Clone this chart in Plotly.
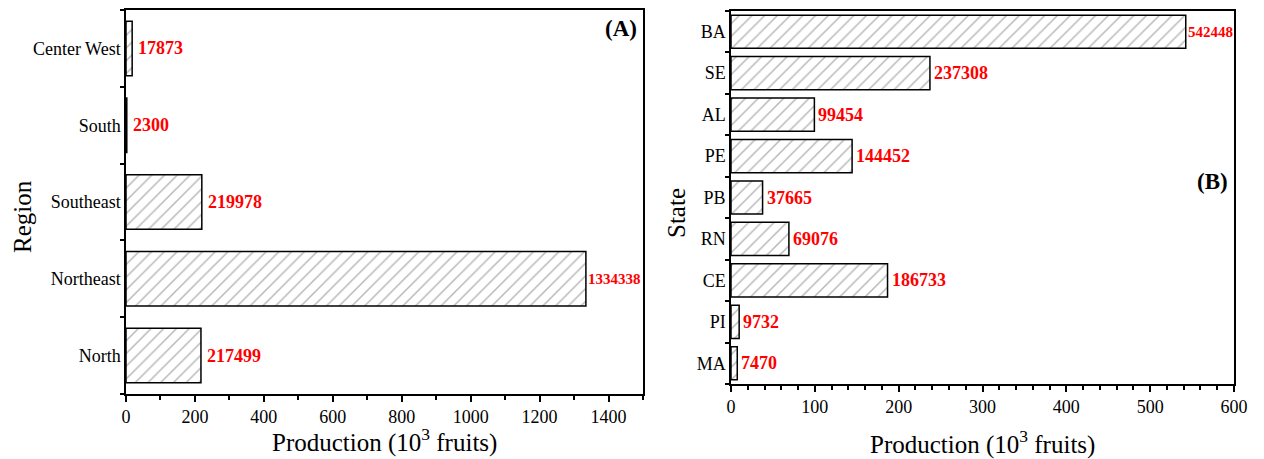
import plotly.graph_objects as go

# ---------------- data ----------------
regions = ["North", "Northeast", "Southeast", "South", "Center West"]
region_values = [217499, 1334338, 219978, 2300, 17873]

states = ["MA", "PI", "CE", "RN", "PB", "PE", "AL", "SE", "BA"]
state_values = [7470, 9732, 186733, 69076, 37665, 144452, 99454, 237308, 542448]

x_ticks_a = [0, 200, 400, 600, 800, 1000, 1200, 1400]
x_ticks_b = [0, 100, 200, 300, 400, 500, 600]

x_title = "Production (10<sup>3</sup> fruits)"
y_title_a = "Region"
y_title_b = "State"

W, H = 1264, 459
SERIF = "Liberation Serif, Times New Roman, serif"

def px_x(p):
    return p / W

def px_y(p):
    return 1 - p / H

fig = go.Figure()

pattern = dict(shape="/", fgcolor="#6e6e6e", bgcolor="white", size=9, solidity=0.16)

fig.add_trace(go.Bar(
    y=regions, x=[v / 1000 for v in region_values], orientation="h",
    width=0.71,
    marker=dict(color="white", line=dict(color="black", width=1.5), pattern=pattern),
    xaxis="x", yaxis="y", showlegend=False, hoverinfo="skip"))

fig.add_trace(go.Bar(
    y=states, x=[v / 1000 for v in state_values], orientation="h",
    width=0.8,
    marker=dict(color="white", line=dict(color="black", width=1.5), pattern=pattern),
    xaxis="x2", yaxis="y2", showlegend=False, hoverinfo="skip"))

annotations = []
for cat, v in zip(regions, region_values):
    big = v > 1000000
    annotations.append(dict(
        x=v / 1000, y=cat, xref="x", yref="y", text=str(v), showarrow=False,
        xanchor="left", yanchor="middle", xshift=0 if big else 4,
        font=dict(family=SERIF, size=15 if big else 18, color="#ff0000", weight="bold")))
for cat, v in zip(states, state_values):
    big = v > 500000
    annotations.append(dict(
        x=v / 1000, y=cat, xref="x2", yref="y2", text=str(v), showarrow=False,
        xanchor="left", yanchor="middle", xshift=0 if big else 2,
        font=dict(family=SERIF, size=15 if big else 18, color="#ff0000", weight="bold")))

annotations.append(dict(x=px_x(639), y=px_y(29), xref="paper", yref="paper", text="<b>(A)</b>",
                        showarrow=False, xanchor="right", yanchor="middle",
                        font=dict(family=SERIF, size=23, color="black")))
annotations.append(dict(x=px_x(1230), y=px_y(181), xref="paper", yref="paper", text="<b>(B)</b>",
                        showarrow=False, xanchor="right", yanchor="middle",
                        font=dict(family=SERIF, size=23, color="black")))

titlefont = dict(family=SERIF, size=25, color="black")
# axis titles
annotations.append(dict(x=px_x(384), y=px_y(440), xref="paper", yref="paper", text=x_title,
                        showarrow=False, xanchor="center", yanchor="middle", font=titlefont))
annotations.append(dict(x=px_x(982), y=px_y(442), xref="paper", yref="paper", text=x_title,
                        showarrow=False, xanchor="center", yanchor="middle", font=titlefont))
annotations.append(dict(x=px_x(22), y=px_y(217), xref="paper", yref="paper", text=y_title_a,
                        showarrow=False, xanchor="center", yanchor="middle", textangle=-90,
                        font=titlefont))
annotations.append(dict(x=px_x(676), y=px_y(213), xref="paper", yref="paper", text=y_title_b,
                        showarrow=False, xanchor="center", yanchor="middle", textangle=-90,
                        font=titlefont))

tickfont = dict(family=SERIF, size=18, color="black")

common_x = dict(showgrid=False, zeroline=False, showline=True, linecolor="black", linewidth=1.5,
                mirror=True, ticks="outside", ticklen=6, tickwidth=1.5, tickcolor="black",
                tickfont=tickfont, fixedrange=True, automargin=False)
common_y = dict(showgrid=False, zeroline=False, showline=True, linecolor="black", linewidth=1.5,
                mirror=True, ticks="outside", ticklen=4, tickwidth=1.5, tickcolor="black",
                tickson="boundaries", tickfont=tickfont, type="category", fixedrange=True,
                automargin=False)

fig.update_layout(
    width=W, height=H,
    margin=dict(l=0, r=0, t=0, b=0),
    paper_bgcolor="white", plot_bgcolor="white",
    font=dict(family=SERIF, color="black"),
    xaxis=dict(common_x, domain=[px_x(126), px_x(643)], anchor="y", range=[0, 1500],
               tickvals=x_ticks_a, ticktext=[str(t) for t in x_ticks_a],
               minor=dict(dtick=100, tick0=0, ticks="outside", ticklen=4, tickwidth=1.5,
                          tickcolor="black")),
    yaxis=dict(common_y, domain=[px_y(394), px_y(10)], anchor="x", range=[-0.5, 4.5]),
    xaxis2=dict(common_x, domain=[px_x(731), px_x(1234)], anchor="y2", range=[0, 600],
                tickvals=x_ticks_b, ticktext=[str(t) for t in x_ticks_b],
                minor=dict(dtick=20, tick0=0, ticks="outside", ticklen=4, tickwidth=1.5,
                           tickcolor="black")),
    yaxis2=dict(common_y, domain=[px_y(384), px_y(11)], anchor="x2", range=[-0.5, 8.5]),
    annotations=annotations,
)

fig.write_html("out.html")
